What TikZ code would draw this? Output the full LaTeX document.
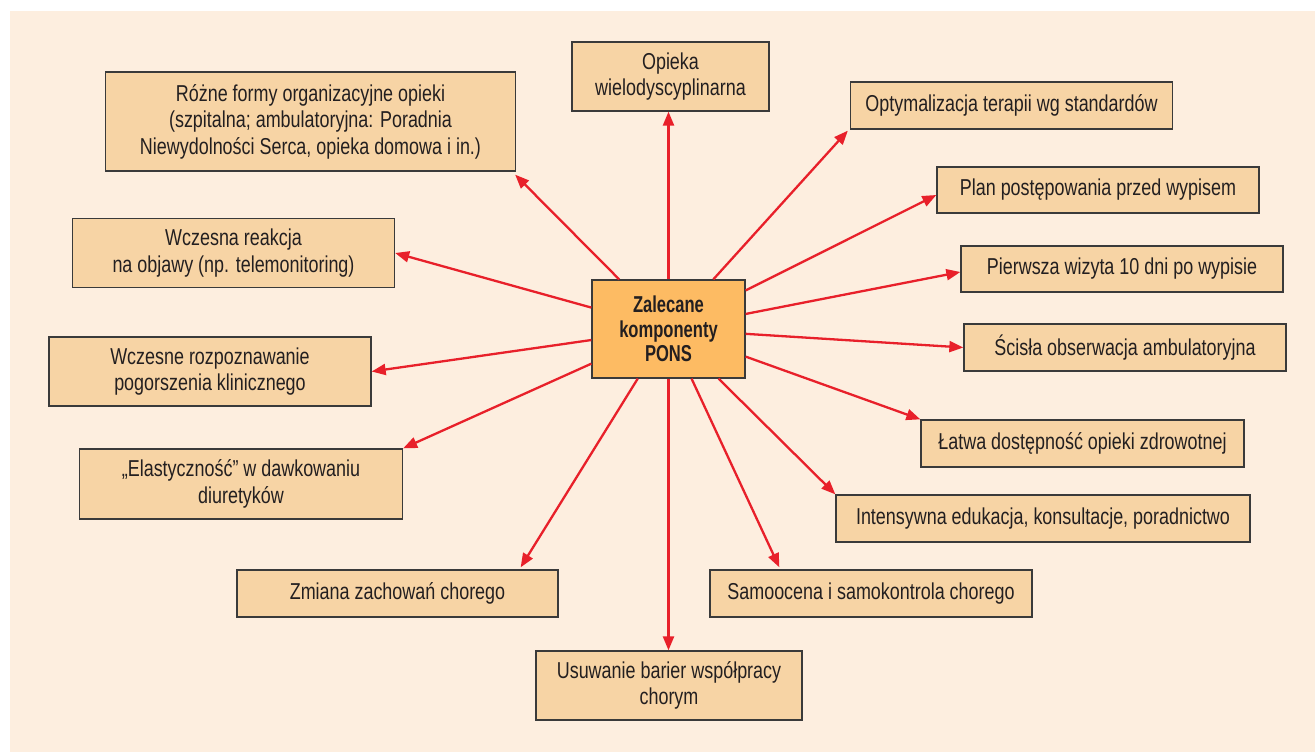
\documentclass[tikz,border=0pt]{standalone}
\usepackage{fontspec}
\setmainfont{Liberation Sans}[FakeStretch=0.78, BoldFeatures={FakeStretch=0.72}]
\usetikzlibrary{arrows.meta,calc}
\definecolor{bg}{HTML}{FDEEDF}
\definecolor{boxfill}{HTML}{F7D4A5}
\definecolor{cfill}{HTML}{FDBB63}
\definecolor{edge}{HTML}{3A3A3A}
\definecolor{txt}{HTML}{231F20}
\definecolor{arr}{HTML}{E8202A}
\tikzset{
  bx/.style 2 args={draw=edge, fill=boxfill, line width=1.3pt*0.75, align=center,
    inner sep=0pt, text=txt, minimum width=#1*0.75pt, minimum height=#2*0.75pt,
    font=\fontsize{17.25}{19.9}\selectfont},
  cbox/.style 2 args={bx={#1}{#2}, fill=cfill, font=\fontsize{17.25}{18.4}\selectfont\bfseries},
  redarrow/.style={draw=arr, line width=2.3pt*0.75, -{Triangle[length=14*0.75pt, width=11*0.75pt]}}
}
\begin{document}
\begin{tikzpicture}[x=0.75pt, y=-0.75pt]
\useasboundingbox (0,0) rectangle (1315,752);
\fill[bg] (10,11) rectangle (1315,752);

\node[cbox={153}{98}] (c) at (668.5,329) {Zalecane\\komponenty\\PONS};

\node[bx={197}{69}] (opieka) at (670.5,76.5) {Opieka\\wielodyscyplinarna};
\node[bx={322}{47}] (opt) at (1011.5,105.5) {Optymalizacja terapii wg standardów};
\node[bx={410}{99}] (rozne) at (310.5,121.5) {Różne formy organizacyjne opieki\\ (szpitalna; ambulatoryjna: Poradnia\\Niewydolności Serca, opieka domowa i in.)};
\node[bx={322}{46}] (plan) at (1098,190) {Plan postępowania przed wypisem};
\node[bx={322}{69}] (wre) at (233.5,253) {Wczesna reakcja\\na objawy (np. telemonitoring)};
\node[bx={322}{46}] (pier) at (1122,269) {Pierwsza wizyta 10 dni po wypisie};
\node[bx={322}{47}] (scisla) at (1125,347.5) {Ścisła obserwacja ambulatoryjna};
\node[bx={322}{69}] (wr) at (210,371.5) {Wczesne rozpoznawanie\\pogorszenia klinicznego};
\node[bx={323}{47}] (latwa) at (1082.5,443.5) {Łatwa dostępność opieki zdrowotnej};
\node[bx={323}{70}] (ela) at (241,484) {„Elastyczność” w dawkowaniu\\diuretyków};
\node[bx={414}{47}] (int) at (1043,518.5) {Intensywna edukacja, konsultacje, poradnictwo};
\node[bx={321}{47}] (zm) at (397.5,593.5) {Zmiana zachowań chorego};
\node[bx={322}{47}] (sam) at (871,593.5) {Samoocena i samokontrola chorego};
\node[bx={266}{69}] (usu) at (669,685.5) {Usuwanie barier współpracy\\chorym};

\draw[redarrow] (c.north) -- (c.north |- opieka.south);
\draw[redarrow] (c) -- ($(rozne.south east)+(-1,3)$);
\draw[redarrow] (c) -- ($(opt.south west)+(-2,1)$);
\draw[redarrow] (c) -- ($(plan.west)+(0,5)$);
\draw[redarrow] (c) -- ($(pier.west)+(0,3)$);
\draw[redarrow] (c) -- (scisla.west);
\draw[redarrow] (c) -- (latwa.north west);
\draw[redarrow] (c) -- (int.north west);
\draw[redarrow] (c) -- ($(sam.north west)+(70,-2)$);
\draw[redarrow] (c.south) -- (c.south |- usu.north);
\draw[redarrow] (c) -- ($(zm.north east)+(-38,-2)$);
\draw[redarrow] (c) -- (ela.north east);
\draw[redarrow] (c) -- (wr.east);
\draw[redarrow] (c) -- (wre.east);
\end{tikzpicture}
\end{document}
